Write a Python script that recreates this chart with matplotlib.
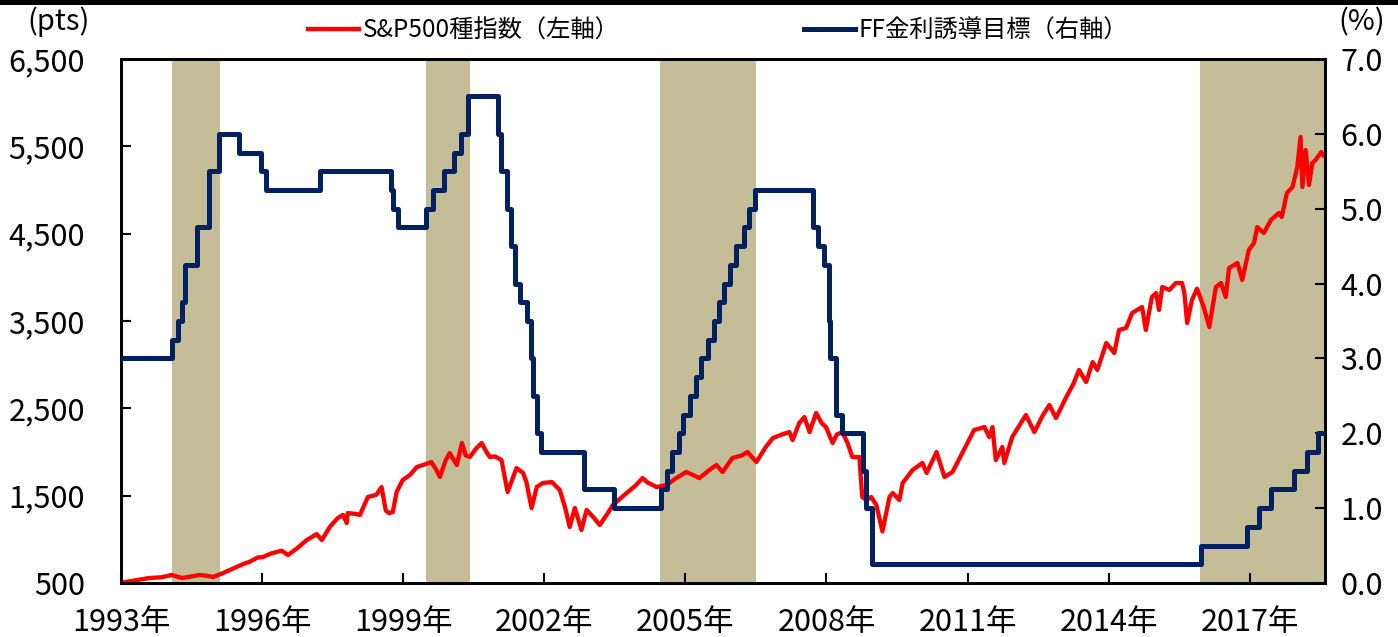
import matplotlib
matplotlib.use("Agg")
import matplotlib.pyplot as plt
from matplotlib.lines import Line2D
from matplotlib.patches import Rectangle
import numpy as np

plt.rcParams['font.family'] = ['Noto Sans CJK JP', 'DejaVu Sans']

# ---------------- data ----------------
sp_dates = [1993.00, 1993.30, 1993.60, 1993.85, 1994.08, 1994.30, 1994.50, 1994.68, 1994.85, 1994.96,
            1995.17, 1995.40, 1995.60, 1995.74, 1995.90, 1996.02, 1996.20, 1996.42, 1996.55, 1996.75,
            1996.95, 1997.16, 1997.27, 1997.45, 1997.61, 1997.72, 1997.80, 1997.82, 1998.00, 1998.08,
            1998.25, 1998.43, 1998.54, 1998.63, 1998.70, 1998.78, 1998.86, 1998.99, 1999.15, 1999.29,
            1999.42, 1999.60, 1999.70, 1999.78, 1999.90, 1999.99, 2000.14, 2000.25, 2000.33, 2000.42,
            2000.55, 2000.67, 2000.75, 2000.84, 2000.95, 2001.09, 2001.22, 2001.41, 2001.55, 2001.62,
            2001.73, 2001.84, 2001.97, 2002.16, 2002.33, 2002.45, 2002.54, 2002.65, 2002.79, 2002.90,
            2003.05, 2003.18, 2003.35, 2003.46, 2003.60, 2003.75, 2003.95, 2004.09, 2004.20, 2004.39,
            2004.60, 2004.80, 2005.02, 2005.15, 2005.30, 2005.50, 2005.66, 2005.79, 2006.00, 2006.20,
            2006.32, 2006.45, 2006.51, 2006.70, 2006.86, 2007.05, 2007.21, 2007.28, 2007.42, 2007.53,
            2007.64, 2007.78, 2007.90, 2007.99, 2008.13, 2008.22, 2008.34, 2008.45, 2008.55, 2008.70,
            2008.76, 2008.85, 2008.95, 2009.06, 2009.19, 2009.34, 2009.41, 2009.55, 2009.62, 2009.83,
            2010.04, 2010.13, 2010.34, 2010.51, 2010.68, 2010.90, 2011.14, 2011.36, 2011.46, 2011.53,
            2011.60, 2011.74, 2011.78, 2011.95, 2012.24, 2012.42, 2012.60, 2012.74, 2012.88, 2013.10,
            2013.25, 2013.37, 2013.52, 2013.66, 2013.76, 2013.95, 2014.12, 2014.22, 2014.37, 2014.50,
            2014.71, 2014.79, 2014.92, 2015.01, 2015.07, 2015.14, 2015.29, 2015.43, 2015.56, 2015.61,
            2015.67, 2015.77, 2015.88, 2016.02, 2016.14, 2016.28, 2016.39, 2016.49, 2016.56, 2016.74,
            2016.84, 2016.98, 2017.09, 2017.16, 2017.30, 2017.45, 2017.62, 2017.68, 2017.79, 2017.91,
            2018.01, 2018.08, 2018.12, 2018.19, 2018.26, 2018.33, 2018.40, 2018.52, 2018.56]
sp_values = [503, 530, 557, 565, 592, 557, 575, 592, 580, 569,
             614, 670, 718, 744, 790, 798, 840, 870, 820, 900,
             992, 1060, 992, 1150, 1244, 1280, 1187, 1301, 1290, 1279,
             1485, 1510, 1599, 1330, 1300, 1313, 1542, 1679, 1740, 1828,
             1851, 1885, 1800, 1714, 1900, 1988, 1851, 2103, 1960, 1943,
             2040, 2103, 2020, 1943, 1950, 1908, 1542, 1817, 1760, 1656,
             1359, 1599, 1645, 1656, 1565, 1350, 1141, 1359, 1107, 1336,
             1250, 1164, 1300, 1393, 1460, 1530, 1620, 1702, 1650, 1599,
             1622, 1700, 1771, 1740, 1702, 1790, 1851, 1771, 1931, 1960,
             2000, 1920, 1885, 2050, 2160, 2200, 2229, 2137, 2330, 2400,
             2229, 2446, 2330, 2286, 2103, 2200, 2229, 2100, 1943, 1943,
             1485, 1450, 1485, 1393, 1090, 1485, 1530, 1450, 1645, 1794,
             1874, 1760, 2000, 1714, 1771, 2000, 2252, 2286, 2172, 2286,
             1908, 2057, 1874, 2172, 2423, 2229, 2420, 2538, 2389, 2630,
             2780, 2939, 2801, 3030, 2939, 3248, 3134, 3397, 3420, 3592,
             3660, 3397, 3775, 3820, 3626, 3889, 3855, 3935, 3935, 3820,
             3477, 3740, 3870, 3660, 3431, 3889, 3935, 3775, 4106, 4164,
             3969, 4313, 4393, 4576, 4508, 4656, 4737, 4691, 4966, 5034,
             5263, 5607, 5034, 5458, 5057, 5309, 5343, 5435, 5400]

ff_dates = [1993.00, 1994.09, 1994.22, 1994.29, 1994.37, 1994.62, 1994.87, 1995.08, 1995.51, 1995.97,
            1996.08, 1997.23, 1998.74, 1998.79, 1998.88, 1999.49, 1999.64, 1999.87, 2000.09, 2000.22,
            2000.37, 2001.01, 2001.08, 2001.21, 2001.29, 2001.37, 2001.49, 2001.64, 2001.71, 2001.75,
            2001.85, 2001.94, 2002.85, 2003.48, 2004.49, 2004.61, 2004.72, 2004.86, 2004.95, 2005.09,
            2005.22, 2005.34, 2005.49, 2005.60, 2005.72, 2005.83, 2005.95, 2006.08, 2006.24, 2006.36,
            2006.49, 2007.71, 2007.83, 2007.94, 2008.06, 2008.08, 2008.21, 2008.33, 2008.77, 2008.83,
            2008.96, 2015.96, 2016.95, 2017.20, 2017.45, 2017.95, 2018.22, 2018.45, 2018.58]
ff_values = [3.00, 3.25, 3.50, 3.75, 4.25, 4.75, 5.50, 6.00, 5.75, 5.50,
             5.25, 5.50, 5.25, 5.00, 4.75, 5.00, 5.25, 5.50, 5.75, 6.00,
             6.50, 6.00, 5.50, 5.00, 4.50, 4.00, 3.75, 3.50, 3.00, 2.50,
             2.00, 1.75, 1.25, 1.00, 1.25, 1.50, 1.75, 2.00, 2.25, 2.50,
             2.75, 3.00, 3.25, 3.50, 3.75, 4.00, 4.25, 4.50, 4.75, 5.00,
             5.25, 4.75, 4.50, 4.25, 3.50, 3.00, 2.25, 2.00, 1.50, 1.00,
             0.25, 0.50, 0.75, 1.00, 1.25, 1.50, 1.75, 2.00, 2.00]

hike_starts = [1994.08, 1999.48, 2004.47, 2015.94]
hike_ends = [1995.10, 2000.41, 2006.51, 2018.60]

x_ticks = [1993, 1996, 1999, 2002, 2005, 2008, 2011, 2014, 2017]
x_labels = ['1993年', '1996年', '1999年', '2002年', '2005年', '2008年', '2011年', '2014年', '2017年']
left_ticks = [500, 1500, 2500, 3500, 4500, 5500, 6500]
right_ticks = [0, 1, 2, 3, 4, 5, 6, 7]

sp_label = 'S&P500種指数（左軸）'
ff_label = 'FF金利誘導目標（右軸）'

RED = '#FF0000'
NAVY = '#002060'
SHADE = '#C4BD97'

# ---------------- figure ----------------
W, H = 1398, 637
fig = plt.figure(figsize=(W / 100, H / 100), dpi=100)
ax = fig.add_axes([121 / W, 1 - 583 / H, (1325 - 121) / W, (583 - 59) / H])
ax2 = ax.twinx()

for s, e in zip(hike_starts, hike_ends):
    ax.axvspan(s, e, color=SHADE, lw=0, zorder=0)

ax.plot(sp_dates, sp_values, color=RED, lw=3.1, zorder=2, solid_joinstyle='round')
ax2.plot(ff_dates, ff_values, color=NAVY, lw=3.6, drawstyle='steps-post', zorder=3)

ax.set_xlim(1993, 2018.6)
ax.set_ylim(500, 6500)
ax2.set_ylim(0, 7)

ax.set_xticks(x_ticks)
ax.set_xticklabels(x_labels)
ax.set_yticks(left_ticks)
ax.set_yticklabels([f'{v:,}' for v in left_ticks])
ax2.set_yticks(right_ticks)
ax2.set_yticklabels([f'{v:.1f}' for v in right_ticks])

FS = 22
ax.tick_params(axis='x', direction='in', length=7, width=1.5, labelsize=FS, pad=17)
ax.tick_params(axis='y', direction='in', length=7, width=1.5, labelsize=FS, pad=26)
ax2.tick_params(axis='y', direction='in', length=7, width=1.5, labelsize=FS, pad=11)

for a in (ax, ax2):
    for sp in a.spines.values():
        sp.set_linewidth(2)
        sp.set_color('black')

ax.set_zorder(1)
ax2.set_zorder(2)
ax2.patch.set_visible(False)

fig.text(59 / W, 1 - 22 / H, '(pts)', ha='center', va='center', fontsize=21)
fig.text(1362 / W, 1 - 22 / H, '(%)', ha='center', va='center', fontsize=21)

handles = [Line2D([], [], color=RED, lw=3.2), Line2D([], [], color=NAVY, lw=3.6)]
fig.legend(handles, [sp_label, ff_label], loc='center', bbox_to_anchor=(718 / W, 1 - 31 / H),
           ncol=2, frameon=False, fontsize=17.5, handlelength=2.1, handletextpad=0.15,
           columnspacing=7.6, borderaxespad=0, borderpad=0)

# top black band
fig.patches.append(Rectangle((0, 1 - 5 / H), 1, 5 / H, transform=fig.transFigure,
                             facecolor='black', edgecolor='none', zorder=10))

fig.savefig('out.png', dpi=100)
